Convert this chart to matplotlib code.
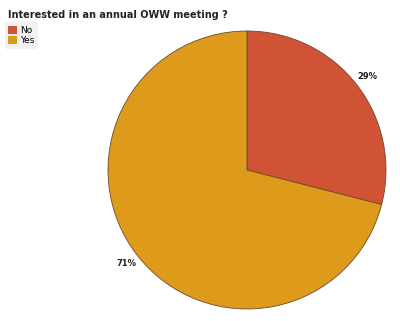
import matplotlib
matplotlib.use("Agg")
import matplotlib.pyplot as plt
from matplotlib.patches import Patch

labels = ["No", "Yes"]
shares = [29, 71]
colors = ["#D05336", "#DE9A1B"]

fig = plt.figure(figsize=(4.0, 3.21), dpi=100)
ax = fig.add_axes([0.2700, 0.0374, 0.695, 0.866])

wedges, texts, autotexts = ax.pie(
    shares,
    colors=colors,
    startangle=90,
    counterclock=False,
    autopct="%d%%",
    pctdistance=1.1,
    wedgeprops=dict(edgecolor="#6b4a30", linewidth=0.6),
    textprops=dict(fontsize=6, color="#222222", fontweight="semibold"),
)
ax.set_xlim(-1, 1)
ax.set_ylim(-1, 1)
ax.set_aspect("equal")

fig.text(0.02, 0.953, "Interested in an annual OWW meeting ?",
         fontsize=7, fontweight="bold", color="#222222", va="center")

handles = [Patch(facecolor=c, edgecolor="none") for c in colors]
leg = fig.legend(handles, labels, loc="upper left", bbox_to_anchor=(0.012, 0.93),
                 fontsize=6.5, frameon=True, handlelength=0.9, handleheight=0.9,
                 handletextpad=0.4, labelspacing=0.1, borderpad=0.4, borderaxespad=0)
leg.get_frame().set_facecolor("#eeeeee")
leg.get_frame().set_edgecolor("none")

fig.savefig("out.png", dpi=100)
